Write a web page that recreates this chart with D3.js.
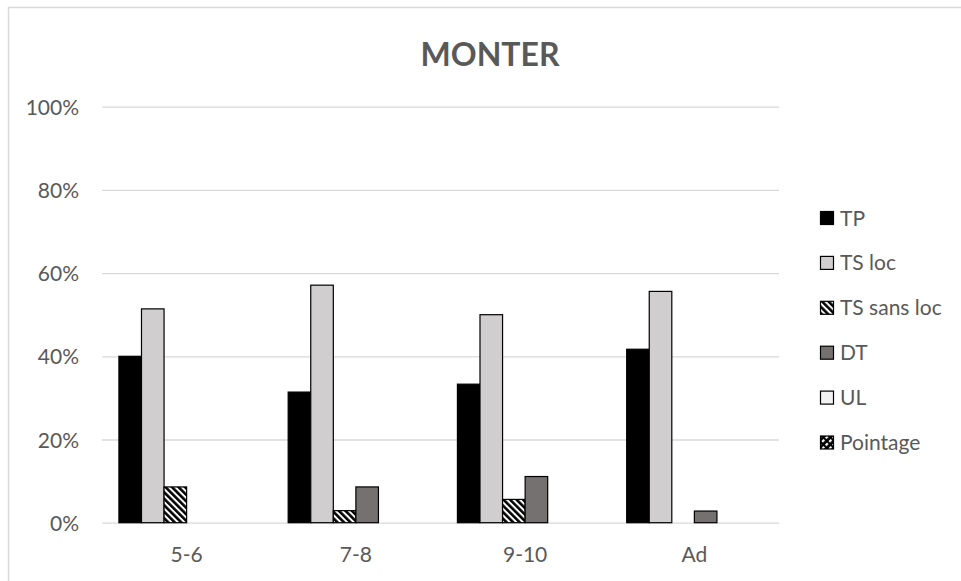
<!DOCTYPE html>
<html>
<head>
<meta charset="utf-8">
<script src="https://cdn.jsdelivr.net/npm/d3@7"></script>
<style>
  html, body { margin: 0; padding: 0; background: #fff; }
  svg { display: block; }
  text { font-family: Lato, "Open Sans", sans-serif; }
</style>
</head>
<body>
<div id="chart"></div>
<script>
// ---- data ----
const categories = ["5-6", "7-8", "9-10", "Ad"];
const seriesNames = ["TP", "TS loc", "TS sans loc", "DT", "UL", "Pointage"];
const TP        = [0.400, 0.314, 0.333, 0.417];
const TSloc     = [0.514, 0.571, 0.500, 0.556];
const TSsansloc = [0.086, 0.029, 0.056, 0.000];
const DT        = [0.000, 0.086, 0.111, 0.028];
const UL        = [0.000, 0.000, 0.000, 0.000];
const Pointage  = [0.000, 0.000, 0.000, 0.000];
const yTicks = [0, 0.2, 0.4, 0.6, 0.8, 1.0];
const title = "MONTER";

const seriesValues = [TP, TSloc, TSsansloc, DT, UL, Pointage];

// ---- layout ----
const W = 961, H = 581;
const plot = { left: 102, right: 779, top: 106.7, bottom: 522.7 };

const svg = d3.select("#chart").append("svg")
  .attr("width", W).attr("height", H);

const defs = svg.append("defs");
// wide downward diagonal stripes
const p1 = defs.append("pattern").attr("id", "stripes")
  .attr("patternUnits", "userSpaceOnUse").attr("width", 4.6).attr("height", 4.6)
  .attr("patternTransform", "rotate(-45)");
p1.append("rect").attr("width", 4.6).attr("height", 4.6).attr("fill", "#fff");
p1.append("rect").attr("width", 2.6).attr("height", 4.6).attr("fill", "#000");
// dashed upward diagonal for Pointage
const p2 = defs.append("pattern").attr("id", "pointage")
  .attr("patternUnits", "userSpaceOnUse").attr("width", 5).attr("height", 5)
  .attr("patternTransform", "rotate(45)");
p2.append("rect").attr("width", 5).attr("height", 5).attr("fill", "#000");
p2.append("rect").attr("x", 0).attr("y", 0).attr("width", 2.2).attr("height", 3).attr("fill", "#fff");

const fills = ["#000000", "#d0cece", "url(#stripes)", "#767171", "#f2f2f2", "url(#pointage)"];
const strokes = ["#000", "#000", "#000", "#000", "#000", "#000"];

svg.append("rect").attr("x", 0).attr("y", 0).attr("width", W).attr("height", H).attr("fill", "#fff");
// outer chart border
svg.append("rect").attr("x", 8.5).attr("y", 7.5).attr("width", W).attr("height", H)
  .attr("fill", "none").attr("stroke", "#d9d9d9").attr("stroke-width", 1.5);

// ---- scales ----
const x0 = d3.scaleBand().domain(categories).range([plot.left, plot.right])
  .paddingInner(0.2).paddingOuter(0.1);
const x1 = d3.scaleBand().domain(seriesNames).range([0, x0.bandwidth()]);
const y = d3.scaleLinear().domain([0, 1]).range([plot.bottom, plot.top]);

// ---- y axis with gridlines ----
const yAxis = svg.append("g").attr("transform", `translate(${plot.left},0)`)
  .call(d3.axisLeft(y).tickValues(yTicks).tickFormat(d3.format(".0%"))
    .tickSize(-(plot.right - plot.left)).tickPadding(23));
yAxis.select(".domain").remove();
yAxis.selectAll(".tick line").attr("stroke", "#d9d9d9").attr("stroke-width", 1.3);
yAxis.selectAll(".tick text").attr("fill", "#595959").attr("font-size", 21)
  .attr("font-family", "Lato, sans-serif").attr("dy", "0.36em");

// ---- x axis ----
const xAxis = svg.append("g").attr("transform", `translate(0,${plot.bottom})`)
  .call(d3.axisBottom(x0).tickSize(0));
xAxis.select(".domain").remove();
xAxis.selectAll(".tick text").attr("fill", "#595959").attr("font-size", 21)
  .attr("font-family", "Lato, sans-serif").attr("dy", null).attr("y", 39.5);

// ---- bars ----
const groups = svg.append("g").selectAll("g").data(categories).join("g")
  .attr("transform", d => `translate(${x0(d)},0)`);
groups.selectAll("rect")
  .data((c, i) => seriesNames.map((s, k) => ({ s, k, v: seriesValues[k][i] })).filter(d => d.v > 0))
  .join("rect")
  .attr("x", d => x1(d.s))
  .attr("y", d => y(d.v))
  .attr("width", x1.bandwidth())
  .attr("height", d => y(0) - y(d.v))
  .attr("fill", d => fills[d.k])
  .attr("stroke", d => strokes[d.k])
  .attr("stroke-width", 1.2);

// ---- title ----
svg.append("text").attr("x", 490).attr("y", 66).attr("text-anchor", "middle")
  .attr("font-size", 32).attr("font-weight", "bold").attr("fill", "#595959")
  .text(title);

// ---- legend ----
const legY = d3.scalePoint().domain(seriesNames).range([218, 442.5]);
const leg = svg.append("g").selectAll("g").data(seriesNames).join("g")
  .attr("transform", d => `translate(820,${legY(d)})`);
leg.append("rect").attr("x", 0.5).attr("y", -6.5).attr("width", 13).attr("height", 13)
  .attr("fill", (d, i) => fills[i]).attr("stroke", "#000").attr("stroke-width", 1.2);
leg.append("text").attr("x", 20).attr("dy", "0.36em").attr("font-size", 21)
  .attr("fill", "#595959").text(d => d);
</script>
</body>
</html>
